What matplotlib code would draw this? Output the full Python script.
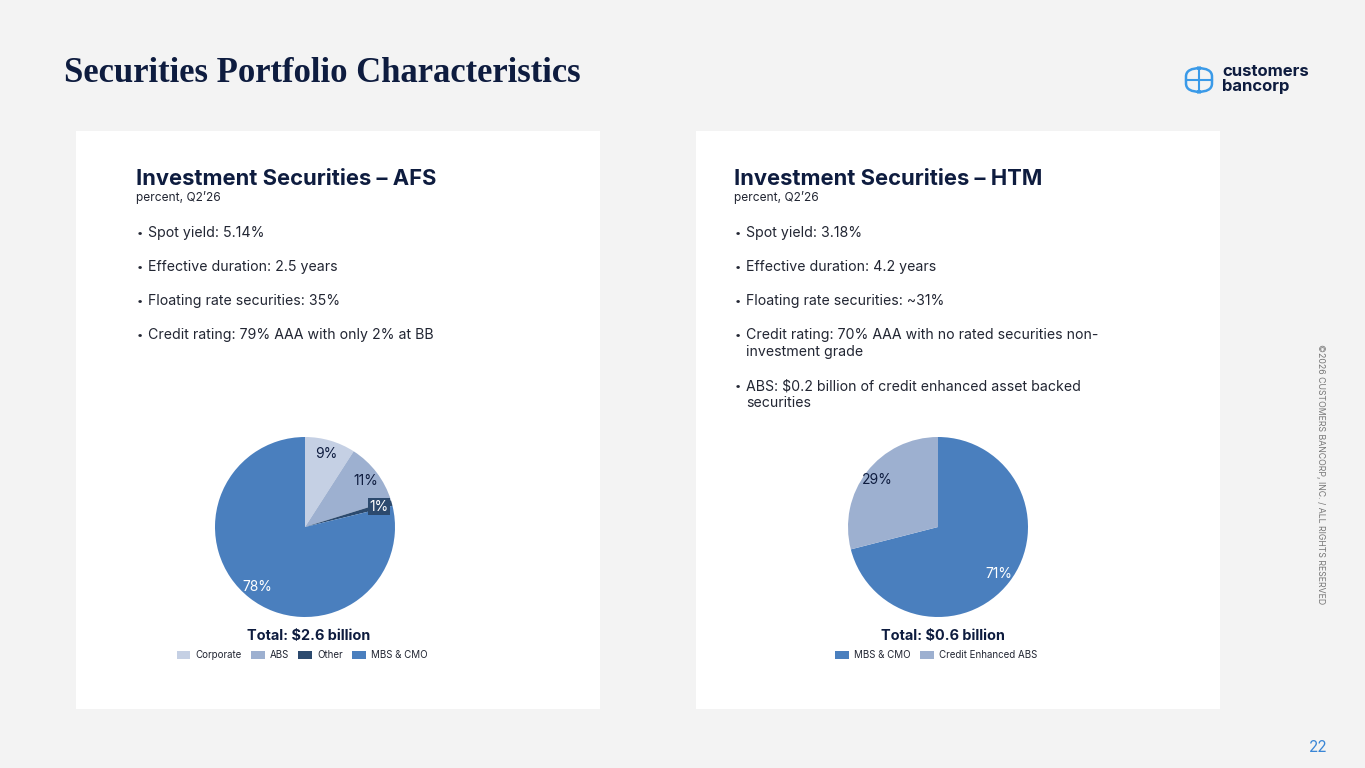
import matplotlib.pyplot as plt
from matplotlib.patches import Rectangle, FancyBboxPatch

# AFS portfolio mix (percent, Q2'26)
afs_labels = ['Corporate', 'ABS', 'Other', 'MBS & CMO']
afs_values = [9, 11, 1, 78]
afs_total = 'Total: $2.6 billion'
afs_bullets = ['Spot yield: 5.14%',
               'Effective duration: 2.5 years',
               'Floating rate securities: 35%',
               'Credit rating: 79% AAA with only 2% at BB']

# HTM portfolio mix
htm_labels = ['MBS & CMO', 'Credit Enhanced ABS']
htm_values = [71, 29]
htm_total = 'Total: $0.6 billion'
htm_bullets = ['Spot yield: 3.18%',
               'Effective duration: 4.2 years',
               'Floating rate securities: ~31%',
               'Credit rating: 70% AAA with no rated securities non-\ninvestment grade',
               'ABS: $0.2 billion of credit enhanced asset backed\nsecurities']

NAVY = '#0E1C3F'
TEXT = '#222633'
BG = '#F3F3F3'
c_corp, c_abs, c_other, c_mbs = '#C5D0E4', '#9DB0D0', '#2C4A6E', '#4A7FBE'

W, H = 1365, 768
plt.rcParams['font.family'] = ['Inter', 'DejaVu Sans']

fig = plt.figure(figsize=(W / 100, H / 100), dpi=100)
fig.patch.set_facecolor(BG)


def fx(x):
    return x / W


def fy(y):
    return 1 - y / H


# white panels (behind the pie axes)
for x0 in (76, 696):
    fig.add_artist(Rectangle((fx(x0), fy(709)), 524 / W, 578 / H, zorder=-5,
                             transform=fig.transFigure, facecolor='white', edgecolor='none'))

fig.text(fx(64), fy(74), 'Securities Portfolio Characteristics', fontsize=24.9,
         family=['Liberation Serif', 'DejaVu Serif'], fontweight='bold', color=NAVY, va='center')

# logo
BLUE = '#3A9AE8'
fig.add_artist(FancyBboxPatch((fx(1186), fy(92)), 26 / W, 24 / H,
                              boxstyle='round,pad=0,rounding_size=0.011',
                              transform=fig.transFigure, facecolor='none',
                              edgecolor=BLUE, linewidth=1.8))
fig.add_artist(plt.Line2D([fx(1186), fx(1212)], [fy(80), fy(80)], transform=fig.transFigure,
                          color=BLUE, linewidth=1.5))
fig.add_artist(plt.Line2D([fx(1199), fx(1199)], [fy(68), fy(92)], transform=fig.transFigure,
                          color=BLUE, linewidth=1.5))
fig.text(fx(1222), fy(79), 'customers\nbancorp', fontsize=12, fontweight='bold', color=NAVY,
         va='center', linespacing=0.95)

fig.text(fx(1320), fy(474), '©2026 CUSTOMERS BANCORP, INC. / ALL RIGHTS RESERVED', fontsize=6.3,
         color='#777777', rotation=-90, ha='center', va='center')
fig.text(fx(1328), fy(747), '22', fontsize=11, color='#3A86D6', ha='right', va='center')


def panel(x0, title, bullets):
    fig.text(fx(x0), fy(179), title, fontsize=15.8, fontweight='bold', color=NAVY, va='center')
    fig.text(fx(x0), fy(198), 'percent, Q2’26', fontsize=8.6, color=TEXT, va='center')
    y = 233
    for b in bullets:
        extra = 17 if '\n' in b else 0
        fig.text(fx(x0 + 1), fy(y), '•', fontsize=8, color=TEXT, va='center')
        fig.text(fx(x0 + 12), fy(y + extra / 2), b, fontsize=10.2, color=TEXT, va='center',
                 linespacing=1.2)
        y += 34 + extra


panel(136, 'Investment Securities – AFS', afs_bullets)
panel(734, 'Investment Securities – HTM', htm_bullets)


def make_pie(cx, values, labels, colors, txt_colors, total, legend_cx):
    r = 90
    ax = fig.add_axes([fx(cx - r), fy(527 + r), 2 * r / W, 2 * r / H])
    wedges, _, autotexts = ax.pie(values, colors=colors, startangle=90, counterclock=False,
                                  autopct='%d%%', pctdistance=0.85,
                                  wedgeprops=dict(linewidth=0))
    ax.set_xlim(-1, 1)
    ax.set_ylim(-1, 1)
    for at, v, tc in zip(autotexts, values, txt_colors):
        at.set_text(f'{v}%')
        at.set_color(tc)
        at.set_fontsize(10)
    fig.text(fx(legend_cx + 7), fy(636), total, fontsize=10.4, fontweight='bold', color=NAVY,
             ha='center', va='center')
    fig.legend(wedges, labels, loc='center', bbox_to_anchor=(fx(legend_cx), fy(655)),
               ncol=len(labels), frameon=False, fontsize=7, handlelength=1.4, handleheight=0.9,
               columnspacing=1.0, handletextpad=0.5, labelcolor=TEXT)
    return autotexts


afs_txt = make_pie(305, afs_values, afs_labels, [c_corp, c_abs, c_other, c_mbs],
                   [NAVY, NAVY, 'white', 'white'], afs_total, 302)
afs_txt[2].set_bbox(dict(facecolor=c_other, edgecolor='none', pad=1))
make_pie(938, htm_values, htm_labels, [c_mbs, c_abs], ['white', NAVY], htm_total, 936)

fig.savefig('out.png', dpi=100, facecolor=BG)
